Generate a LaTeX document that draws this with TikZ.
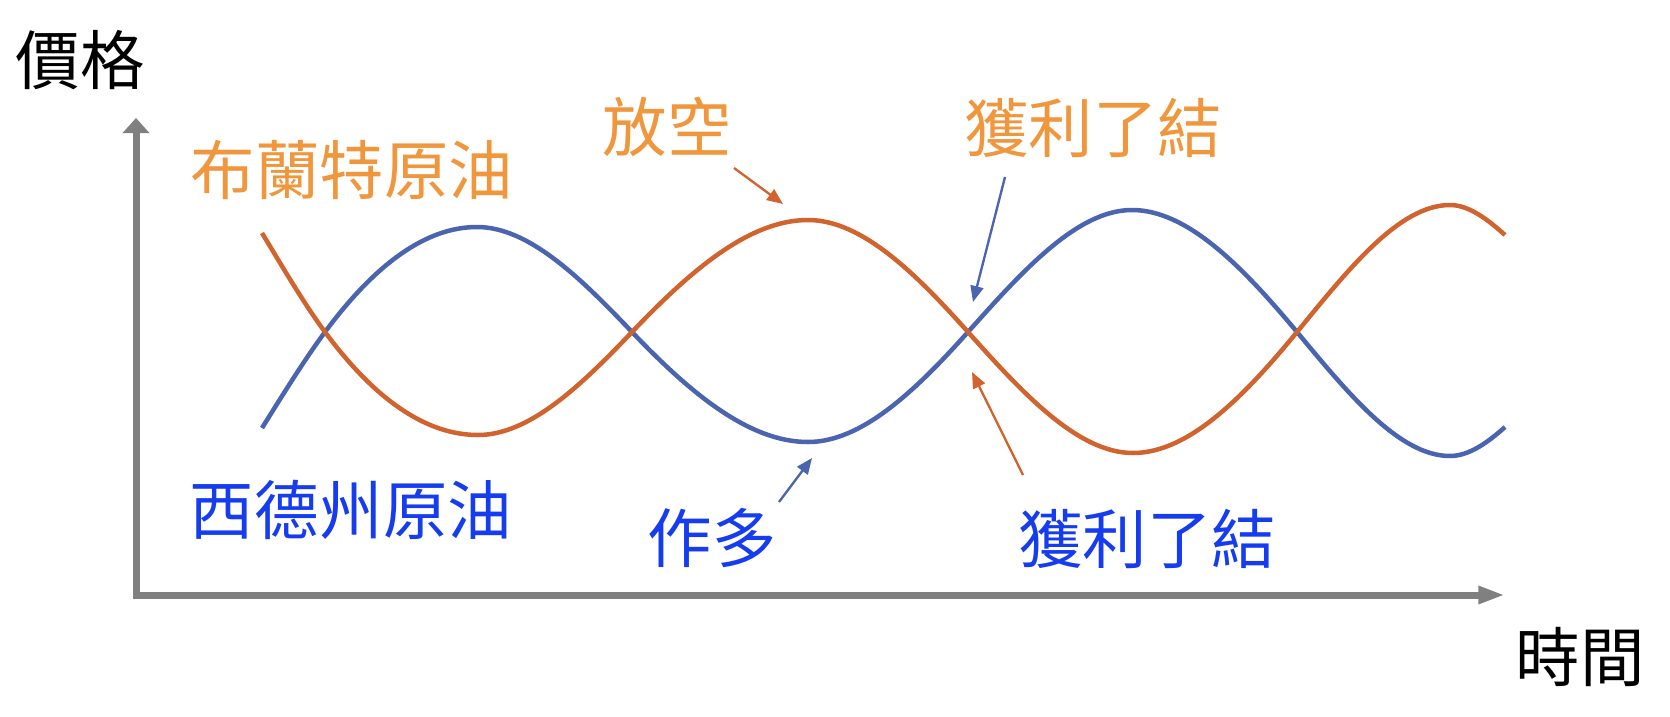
\documentclass[tikz,border=0pt]{standalone}
\usepackage{fontspec}
\setmainfont{Noto Sans CJK TC}
\usetikzlibrary{arrows.meta}
\definecolor{otext}{HTML}{F0963C}
\definecolor{oline}{HTML}{D0632E}
\definecolor{bline}{HTML}{4A64AF}
\definecolor{btext}{HTML}{163CF0}
\definecolor{axisgray}{HTML}{808080}
\tikzset{
  lbl/.style={anchor=base, inner sep=0pt, font=\fontsize{55}{60}\selectfont},
  axisline/.style={draw=axisgray, line width=2.1mm, line join=miter},
  curve/.style={line width=1.35mm},
  pointer/.style={line width=0.7mm, -{Triangle[length=4.8mm,width=3.9mm]}},
}
\begin{document}
\begin{tikzpicture}[x=0.3mm, y=-0.3mm]
\useasboundingbox (0,0) rectangle (1670,716);
% axes
\coordinate (O) at (136,595);
\coordinate (ytip) at (136,118);
\coordinate (xtip) at (1505,595);
\draw[axisline, {Triangle[length=4.5mm,width=7.8mm]}-{Triangle[length=8mm,width=5mm]}] (ytip) -- (O) -- (xtip);
% curves
\draw[curve, bline] (262,428) .. controls (283,394.4) and (304,360.4) .. (325,332)
 .. controls (375.7,263.6) and (426.3,227) .. (477,227)
 .. controls (528.7,227) and (580.3,277.7) .. (632,332)
 .. controls (690.7,393.6) and (749.3,442) .. (808,442)
 .. controls (861.3,442) and (914.7,391.7) .. (968,332)
 .. controls (1022.7,270.8) and (1077.3,210) .. (1132,210)
 .. controls (1187,210) and (1242,266) .. (1297,332)
 .. controls (1348,393.2) and (1399,456) .. (1450,456)
 .. controls (1468.3,456) and (1486.7,443.5) .. (1505,427);
\draw[curve, oline] (262,233) .. controls (283,267.7) and (304,303.7) .. (325,332)
 .. controls (376,400.9) and (427,435) .. (478,435)
 .. controls (529.3,435) and (580.7,385.9) .. (632,332)
 .. controls (690.7,270.4) and (749.3,220) .. (808,220)
 .. controls (861.3,220) and (914.7,272.3) .. (968,332)
 .. controls (1023,393.6) and (1078,453) .. (1133,453)
 .. controls (1187.7,453) and (1242.3,398.7) .. (1297,332)
 .. controls (1348,269.8) and (1399,205) .. (1450,205)
 .. controls (1468.3,205) and (1486.7,218.5) .. (1505,235);
% labels
\node[lbl] (price) at (80,84) {價格};
\node[lbl] (time) at (1580,681) {時間};
\node[lbl, text=otext] (brent) at (352,194) {布蘭特原油};
\node[lbl, text=btext] (wti) at (351,534) {西德州原油};
\node[lbl, text=otext] (short) at (667,151) {放空};
\node[lbl, text=otext] (tpo) at (1093,152) {獲利了結};
\node[lbl, text=btext] (long) at (712,562) {作多};
\node[lbl, text=btext] (tpb) at (1147,563) {獲利了結};
% pointers
\coordinate (sA) at (734,168); \coordinate (sB) at (783,204);
\coordinate (tbA) at (1005,177); \coordinate (tbB) at (973,302);
\coordinate (toA) at (1023,475); \coordinate (toB) at (972,372);
\coordinate (lA) at (779,502); \coordinate (lB) at (812,458);
\draw[pointer, oline] (sA) -- (sB);
\draw[pointer, bline] (tbA) -- (tbB);
\draw[pointer, oline] (toA) -- (toB);
\draw[pointer, bline] (lA) -- (lB);
\end{tikzpicture}
\end{document}
